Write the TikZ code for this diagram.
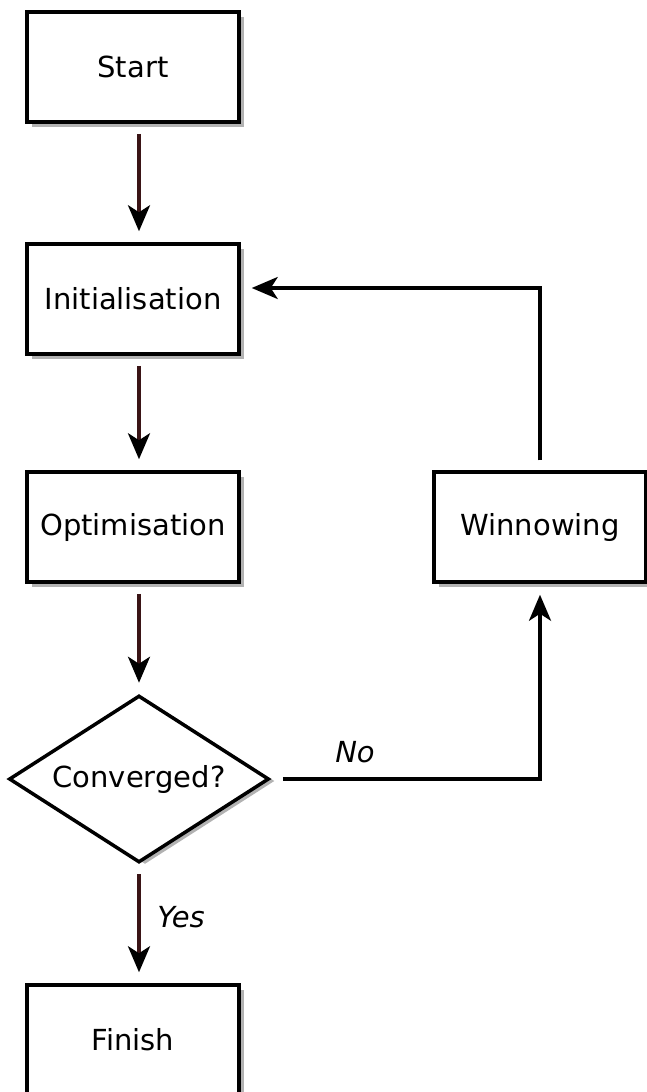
\documentclass[tikz,border=0pt]{standalone}
\usepackage{fontspec}
\setmainfont{DejaVu Sans}
\usetikzlibrary{arrows.meta,shapes.geometric,shadows}
\definecolor{shaft}{HTML}{3A1416}
\tikzset{
  stepbox/.style={draw=black, line width=1.75pt, fill=white, minimum width=106pt, minimum height=55pt, inner sep=0pt,
    drop shadow={shadow xshift=2.5pt, shadow yshift=-2.5pt, fill=black!30, opacity=1}, font=\fontsize{14.5}{16}\selectfont},
  decide/.style={draw=black, line width=1.75pt, fill=white, diamond, aspect=1.56, minimum width=130pt, minimum height=83.5pt, inner sep=0pt,
    drop shadow={shadow xshift=3pt, shadow yshift=-1pt, fill=black!30, opacity=1}, font=\fontsize{14.5}{16}\selectfont},
  flow/.style={draw=shaft, line width=1.75pt, -{Stealth[length=13pt,width=11pt,inset=3.5pt,color=black]}, shorten <=5pt, shorten >=5.5pt},
  loop/.style={draw=black, line width=1.75pt, -{Stealth[length=13pt,width=11pt,inset=3.5pt,color=black]}, shorten <=5pt, shorten >=5.5pt},
  lbl/.style={font=\fontsize{14.5}{16}\selectfont\itshape},
}
\begin{document}
\begin{tikzpicture}[x=0.5pt,y=-0.5pt]
\useasboundingbox (0,0) rectangle (647,1092);
\node[stepbox] (start) at (133,67) {Start};
\node[stepbox] (init) at (133,299) {Initialisation};
\node[stepbox] (opt) at (133,527) {Optimisation};
\node[decide] (conv) at (139,779) {Converged?};
\node[stepbox] (fin) at (133,1040) {Finish};
\node[stepbox] (win) at (540,527) {Winnowing};
\coordinate (corner) at (540,288);
\draw[flow] (conv.north |- start.south) -- (conv.north |- init.north);
\draw[flow] (conv.north |- init.south) -- (conv.north |- opt.north);
\draw[flow] (conv.north |- opt.south) -- (conv.north);
\draw[flow] (conv.south) -- (conv.south |- fin.north);
\draw[loop, shorten <=6pt] (conv.east) -| (win.south);
\draw[loop] (win.north) -- (corner) -- (init.east |- corner);
\node[lbl] (no) at (355,752) {No};
\node[lbl] (yes) at (181,917) {Yes};
\end{tikzpicture}
\end{document}
